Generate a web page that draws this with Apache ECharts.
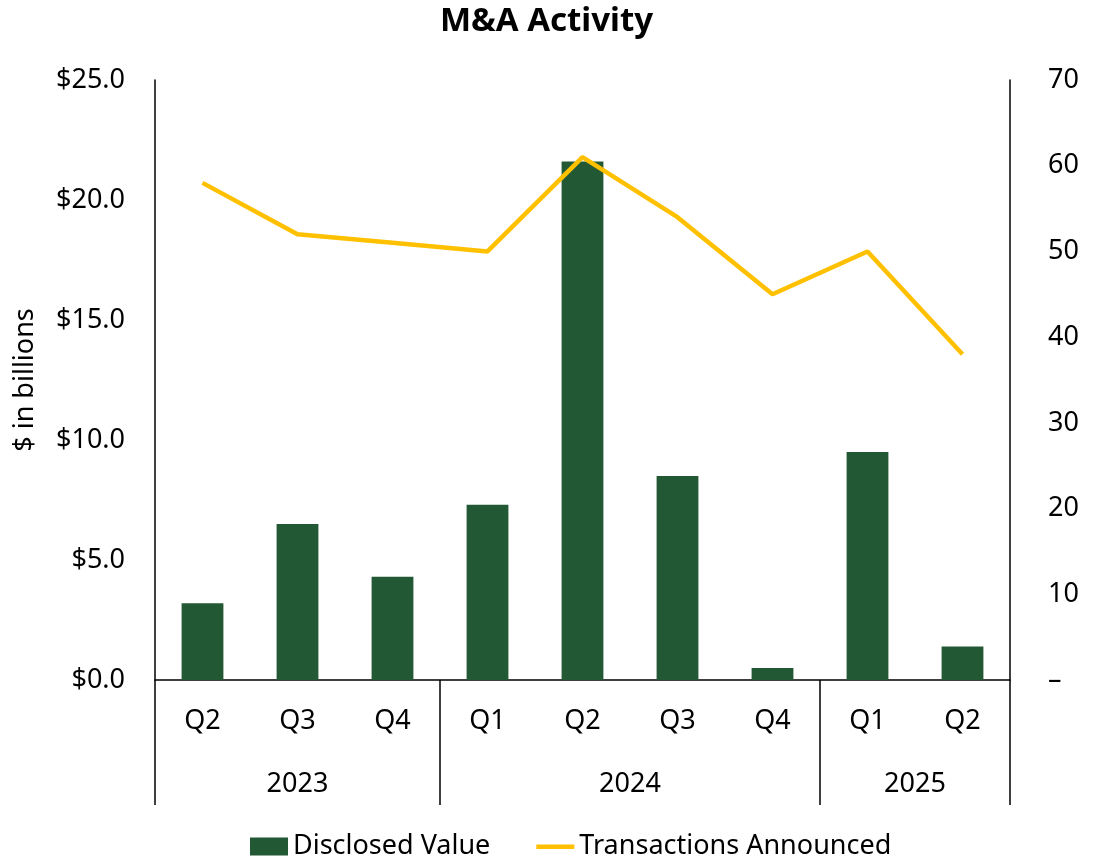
<!DOCTYPE html>
<html>
<head>
<meta charset="utf-8">
<script src="https://cdn.jsdelivr.net/npm/echarts@6/dist/echarts.min.js"></script>
<style>
  html, body { margin: 0; padding: 0; background: #fff; }
  #main { width: 1093px; height: 862px; }
</style>
</head>
<body>
<div id="main"></div>
<script>
// 数据
var quarters = ['Q2', 'Q3', 'Q4', 'Q1', 'Q2', 'Q3', 'Q4', 'Q1', 'Q2'];
var years = ['2023', '2024', '2025'];
var yearSpans = [3, 4, 2];
var disclosedValue = [3.2, 6.5, 4.3, 7.3, 21.6, 8.5, 0.5, 9.5, 1.4];
var transactions = [58, 52, 51, 50, 61, 54, 45, 50, 38];

// 年份分隔线位置和标签位置
var bounds = [0];
var yearMids = [];
yearSpans.forEach(function (s, i) {
  var start = bounds[bounds.length - 1];
  yearMids.push(start + s / 2);
  bounds.push(start + s);
});

var font = 'Noto Sans';
var fs = 27;
var myChart = echarts.init(document.getElementById('main'));

var option = {
  animation: false,
  title: {
    text: 'M&A Activity',
    left: 'center',
    top: 0,
    textStyle: { fontFamily: font, fontSize: 33, fontWeight: 'bold', color: '#000' }
  },
  legend: {
    top: 828,
    left: 245,
    itemGap: 46,
    itemWidth: 38,
    itemHeight: 18,
    symbolKeepAspect: false,
    textStyle: { fontFamily: font, fontSize: fs, color: '#000' },
    data: [
      { name: 'Disclosed Value', icon: 'rect' },
      // 粗线图标
      { name: 'Transactions Announced', icon: 'path://M0,0 M0,7 L40,7 L40,11.5 L0,11.5 Z M40,18' }
    ]
  },
  grid: { left: 155, right: 83, top: 80, bottom: 182, containLabel: false },
  xAxis: [
    {
      type: 'category',
      data: quarters,
      axisLine: { lineStyle: { color: '#000', width: 1.5 } },
      axisTick: { show: false },
      axisLabel: { margin: 28, fontFamily: font, fontSize: fs, color: '#000' }
    },
    {
      type: 'value',
      position: 'bottom',
      min: 0,
      max: bounds[bounds.length - 1],
      splitLine: { show: false },
      axisLine: { show: false },
      axisTick: {
        show: true,
        customValues: bounds,
        length: 125,
        lineStyle: { color: '#000', width: 1.5 }
      },
      axisLabel: {
        customValues: yearMids,
        margin: 91,
        fontFamily: font,
        fontSize: fs,
        color: '#000',
        formatter: function (v) {
          var i = yearMids.indexOf(v);
          return i >= 0 ? years[i] : '';
        }
      }
    }
  ],
  yAxis: [
    {
      type: 'value',
      name: '$ in billions',
      nameLocation: 'middle',
      nameGap: 116,
      nameTextStyle: { fontFamily: font, fontSize: fs, color: '#000' },
      min: 0,
      max: 25,
      interval: 5,
      splitLine: { show: false },
      axisLine: { show: true, lineStyle: { color: '#000', width: 1.5 } },
      axisTick: { show: false },
      axisLabel: {
        margin: 30,
        fontFamily: font,
        fontSize: fs,
        color: '#000',
        formatter: function (v) { return '$' + v.toFixed(1); }
      }
    },
    {
      type: 'value',
      position: 'right',
      min: 0,
      max: 70,
      interval: 10,
      splitLine: { show: false },
      axisLine: { show: true, lineStyle: { color: '#000', width: 1.5 } },
      axisTick: { show: false },
      axisLabel: {
        margin: 38,
        fontFamily: font,
        fontSize: fs,
        color: '#000',
        formatter: function (v) { return v === 0 ? '–' : String(v); }
      }
    }
  ],
  series: [
    {
      name: 'Disclosed Value',
      type: 'bar',
      xAxisIndex: 0,
      yAxisIndex: 0,
      barWidth: '44%',
      itemStyle: { color: '#235834' },
      data: disclosedValue
    },
    {
      name: 'Transactions Announced',
      type: 'line',
      xAxisIndex: 0,
      yAxisIndex: 1,
      symbol: 'none',
      lineStyle: { color: '#FFC000', width: 4.5 },
      itemStyle: { color: '#FFC000' },
      data: transactions
    }
  ]
};

myChart.setOption(option);
</script>
</body>
</html>
